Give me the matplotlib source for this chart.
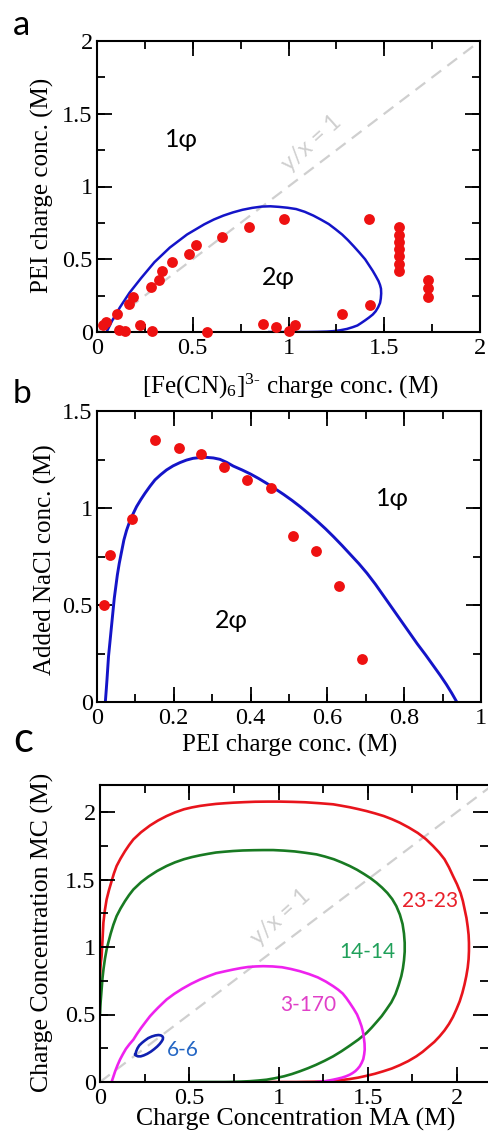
import matplotlib
matplotlib.use("Agg")
import matplotlib.pyplot as plt
from matplotlib.ticker import MultipleLocator, FuncFormatter
from matplotlib.collections import LineCollection

plt.rcParams['font.family'] = ['Liberation Serif', 'DejaVu Serif']
plt.rcParams['mathtext.fontset'] = 'custom'
plt.rcParams['mathtext.rm'] = 'Liberation Serif'
plt.rcParams['mathtext.it'] = 'Liberation Serif:italic'
plt.rcParams.update({
    'axes.linewidth': 1.5,
    'xtick.direction': 'in', 'ytick.direction': 'in',
    'xtick.top': True, 'ytick.right': True,
    'xtick.major.size': 0, 'ytick.major.size': 0,
    'xtick.minor.size': 0, 'ytick.minor.size': 0,
    'xtick.labelsize': 17.5, 'ytick.labelsize': 17.5,
    'xtick.major.pad': 4, 'ytick.major.pad': 3,
})

# ---- panel a: PEI / ferricyanide binodal and measured points ----
binodal_a_x = [0.05, 0.065, 0.08, 0.10, 0.12, 0.145, 0.17, 0.20, 0.23, 0.265, 0.30,
               0.34, 0.38, 0.425, 0.47, 0.515, 0.56, 0.61, 0.66, 0.71, 0.76, 0.81,
               0.86, 0.905, 0.95, 0.995, 1.04, 1.085, 1.13, 1.17, 1.21, 1.245, 1.28,
               1.31, 1.34, 1.37, 1.40, 1.42, 1.44, 1.455, 1.47, 1.478, 1.483, 1.484,
               1.482, 1.478, 1.468, 1.455, 1.44, 1.42, 1.40, 1.38, 1.36, 1.335, 1.305,
               1.27, 1.235, 1.20, 1.15, 1.10, 1.00, 0.90]
binodal_a_y = [0.0, 0.04, 0.08, 0.125, 0.17, 0.22, 0.27, 0.32, 0.37, 0.425, 0.48,
               0.53, 0.58, 0.625, 0.67, 0.705, 0.74, 0.773, 0.80, 0.822, 0.84, 0.853,
               0.862, 0.864, 0.860, 0.854, 0.845, 0.826, 0.80, 0.772, 0.742, 0.707,
               0.67, 0.632, 0.59, 0.546, 0.50, 0.46, 0.42, 0.386, 0.35, 0.323, 0.297,
               0.265, 0.23, 0.20, 0.17, 0.142, 0.12, 0.099, 0.08, 0.062, 0.045, 0.033,
               0.021, 0.012, 0.006, 0.003, 0.001, 0.0, 0.0, 0.0]

exp_a_x = [0.03, 0.045, 0.105, 0.115, 0.145, 0.165, 0.19, 0.222, 0.28, 0.287, 0.325,
           0.34, 0.39, 0.48, 0.515, 0.575, 0.655, 0.795, 0.975, 0.866, 0.937, 1.0,
           1.033, 1.277, 1.425, 1.42,
           1.575, 1.575, 1.575, 1.575, 1.575, 1.575, 1.575,
           1.727, 1.727, 1.727]
exp_a_y = [0.045, 0.07, 0.125, 0.015, 0.005, 0.19, 0.24, 0.05, 0.31, 0.005, 0.355,
           0.42, 0.48, 0.535, 0.595, 0.0, 0.65, 0.72, 0.78, 0.057, 0.034, 0.005,
           0.046, 0.126, 0.183, 0.78,
           0.42, 0.47, 0.52, 0.57, 0.62, 0.67, 0.72,
           0.24, 0.30, 0.36]

# ---- panel b: salt resistance curve ----
binodal_b_x = [0.0217, 0.024, 0.026, 0.028, 0.030, 0.033, 0.036, 0.039, 0.042, 0.045,
               0.049, 0.053, 0.058, 0.064, 0.070, 0.077, 0.085, 0.094, 0.103, 0.114,
               0.125, 0.138, 0.151, 0.166, 0.181, 0.198, 0.216, 0.233, 0.25, 0.268,
               0.285, 0.303, 0.32, 0.338, 0.355, 0.378, 0.40, 0.421, 0.442, 0.464,
               0.486, 0.508, 0.529, 0.551, 0.573, 0.595, 0.616, 0.638, 0.66, 0.682,
               0.703, 0.725, 0.746, 0.768, 0.79, 0.812, 0.834, 0.856, 0.877, 0.894,
               0.91, 0.924, 0.937]
binodal_b_y = [0.0, 0.06, 0.115, 0.175, 0.235, 0.295, 0.355, 0.415, 0.475, 0.535,
               0.595, 0.655, 0.715, 0.775, 0.835, 0.885, 0.93, 0.97, 1.007, 1.043,
               1.076, 1.112, 1.145, 1.172, 1.196, 1.217, 1.234, 1.247, 1.256, 1.260,
               1.261, 1.258, 1.251, 1.235, 1.216, 1.196, 1.175, 1.152, 1.127, 1.099,
               1.07, 1.039, 1.007, 0.971, 0.933, 0.893, 0.852, 0.807, 0.76, 0.713,
               0.664, 0.607, 0.548, 0.486, 0.424, 0.362, 0.30, 0.242, 0.184, 0.137,
               0.09, 0.045, 0.0]

exp_b_x = [0.017, 0.033, 0.092, 0.152, 0.213, 0.271, 0.331, 0.390, 0.453, 0.511,
           0.570, 0.631, 0.691]
exp_b_y = [0.50, 0.76, 0.945, 1.35, 1.31, 1.28, 1.21, 1.145, 1.105, 0.858, 0.779,
           0.60, 0.223]

# ---- panel c: model binodals for different chain lengths ----
c_23_x = [0.0, 0.002, 0.005, 0.009, 0.014, 0.019, 0.027, 0.037, 0.05, 0.065, 0.078,
          0.093, 0.115, 0.14, 0.163, 0.187, 0.23, 0.28, 0.325, 0.373, 0.42, 0.47,
          0.515, 0.56, 0.605, 0.65, 0.70, 0.746, 0.81, 0.87, 0.94, 1.007, 1.08,
          1.15, 1.23, 1.306, 1.35, 1.40, 1.445, 1.493, 1.54, 1.59, 1.635, 1.679,
          1.73, 1.78, 1.825, 1.866, 1.90, 1.93, 1.955, 1.978, 2.00, 2.02, 2.033,
          2.043, 2.053, 2.06, 2.065, 2.067, 2.067, 2.065, 2.06, 2.052, 2.042, 2.03,
          2.015, 1.996, 1.977, 1.955, 1.93, 1.903, 1.873, 1.84, 1.807, 1.772, 1.727,
          1.68, 1.635, 1.586, 1.54, 1.49, 1.445, 1.399, 1.35, 1.30, 1.255, 1.213,
          1.15, 1.10, 1.0, 0.9]
c_23_y = [0.75, 0.84, 0.89, 0.932, 1.05, 1.18, 1.27, 1.352, 1.42, 1.488, 1.545,
          1.60, 1.655, 1.71, 1.755, 1.797, 1.85, 1.90, 1.937, 1.97, 1.997, 2.02,
          2.034, 2.045, 2.053, 2.060, 2.065, 2.069, 2.073, 2.076, 2.077, 2.077,
          2.075, 2.072, 2.065, 2.057, 2.047, 2.035, 2.022, 2.007, 1.99, 1.97, 1.947,
          1.921, 1.885, 1.845, 1.80, 1.748, 1.70, 1.65, 1.59, 1.525, 1.465, 1.40,
          1.34, 1.278, 1.215, 1.15, 1.09, 1.031, 0.97, 0.91, 0.847, 0.784, 0.722,
          0.66, 0.597, 0.536, 0.481, 0.43, 0.382, 0.339, 0.297, 0.26, 0.223, 0.19,
          0.155, 0.125, 0.10, 0.079, 0.061, 0.045, 0.032, 0.022, 0.014, 0.008,
          0.004, 0.002, 0.001, 0.0, 0.0, 0.0]

c_14_x = [0.0, 0.002, 0.004, 0.009, 0.014, 0.02, 0.028, 0.037, 0.048, 0.06, 0.075,
          0.093, 0.115, 0.14, 0.163, 0.187, 0.23, 0.27, 0.32, 0.373, 0.42, 0.47,
          0.515, 0.56, 0.605, 0.65, 0.70, 0.746, 0.80, 0.86, 0.915, 0.97, 1.03,
          1.09, 1.15, 1.213, 1.26, 1.31, 1.355, 1.399, 1.44, 1.48, 1.515, 1.549,
          1.58, 1.61, 1.637, 1.66, 1.68, 1.695, 1.703, 1.707, 1.707, 1.703, 1.697,
          1.688, 1.673, 1.655, 1.632, 1.604, 1.578, 1.55, 1.522, 1.493, 1.447, 1.40,
          1.353, 1.306, 1.258, 1.21, 1.165, 1.119, 1.075, 1.03, 0.98, 0.933, 0.887,
          0.84, 0.79, 0.746, 0.70, 0.65, 0.60, 0.56, 0.5]
c_14_y = [0.50, 0.56, 0.60, 0.685, 0.77, 0.84, 0.915, 0.981, 1.04, 1.10, 1.165,
          1.229, 1.285, 1.34, 1.385, 1.426, 1.48, 1.52, 1.563, 1.60, 1.627, 1.65,
          1.666, 1.679, 1.69, 1.70, 1.706, 1.711, 1.715, 1.717, 1.718, 1.718, 1.714,
          1.708, 1.698, 1.686, 1.67, 1.65, 1.626, 1.60, 1.572, 1.54, 1.51, 1.476,
          1.44, 1.40, 1.355, 1.303, 1.24, 1.17, 1.10, 1.031, 0.965, 0.90, 0.842,
          0.784, 0.717, 0.65, 0.59, 0.536, 0.488, 0.445, 0.403, 0.363, 0.314, 0.27,
          0.228, 0.19, 0.157, 0.127, 0.102, 0.079, 0.059, 0.042, 0.028, 0.017,
          0.011, 0.006, 0.003, 0.001, 0.0, 0.0, 0.0, 0.0, 0.0]

c_3_x = [0.065, 0.075, 0.085, 0.098, 0.112, 0.128, 0.145, 0.165, 0.187, 0.208, 0.23,
         0.255, 0.28, 0.303, 0.325, 0.35, 0.373, 0.415, 0.46, 0.51, 0.56, 0.605,
         0.65, 0.70, 0.746, 0.79, 0.83, 0.872, 0.914, 0.967, 1.02, 1.07, 1.119,
         1.17, 1.22, 1.265, 1.306, 1.335, 1.36, 1.38, 1.399, 1.42, 1.44, 1.453,
         1.465, 1.473, 1.478, 1.482, 1.483, 1.48, 1.475, 1.466, 1.455, 1.443, 1.43,
         1.415, 1.399, 1.378, 1.355, 1.33, 1.306, 1.283, 1.26, 1.235, 1.213]
c_3_y = [0.0, 0.04, 0.08, 0.124, 0.166, 0.206, 0.245, 0.28, 0.314, 0.358, 0.40,
         0.444, 0.487, 0.52, 0.55, 0.582, 0.611, 0.652, 0.69, 0.727, 0.759, 0.783,
         0.805, 0.82, 0.833, 0.844, 0.852, 0.856, 0.858, 0.856, 0.85, 0.837, 0.821,
         0.8, 0.775, 0.744, 0.71, 0.683, 0.655, 0.622, 0.586, 0.544, 0.50, 0.458,
         0.413, 0.372, 0.33, 0.285, 0.24, 0.205, 0.17, 0.142, 0.116, 0.097, 0.08,
         0.066, 0.054, 0.042, 0.032, 0.024, 0.017, 0.011, 0.006, 0.003, 0.0]

c_6_x = [0.198, 0.203, 0.21, 0.22, 0.235, 0.252, 0.27, 0.29, 0.31, 0.327, 0.34,
         0.349, 0.353, 0.352, 0.345, 0.334, 0.32, 0.303, 0.285, 0.265, 0.245, 0.228,
         0.213, 0.203, 0.198]
c_6_y = [0.205, 0.228, 0.25, 0.271, 0.29, 0.308, 0.325, 0.337, 0.345, 0.348, 0.346,
         0.339, 0.33, 0.316, 0.30, 0.281, 0.262, 0.243, 0.225, 0.209, 0.197, 0.19,
         0.19, 0.195, 0.205]

c_labels = ['23-23', '14-14', '3-170', '6-6']
c_label_x = [1.847, 1.50, 1.166, 0.466]
c_label_y = [1.34, 0.96, 0.574, 0.24]
c_line_colors = ['#e8141c', '#187a22', '#ee22ee', '#1020b0']
c_text_colors = ['#e8202a', '#20a05a', '#e040c8', '#2466c4']

W, H = 488, 1138
fig = plt.figure(figsize=(W / 100, H / 100), dpi=100)

def px_axes(left, top, right, bottom):
    ax = fig.add_axes([left / W, 1 - bottom / H, (right - left) / W, (bottom - top) / H])
    ax.size_px = (right - left, bottom - top)
    return ax

def steps(lo, hi, step):
    n = int((hi - lo) / step + 1e-6)
    return [lo + i * step for i in range(n + 1)]

def set_ticks(ax, xmaj, xmin, ymaj, ymin):
    ax.xaxis.set_major_locator(MultipleLocator(xmaj))
    ax.yaxis.set_major_locator(MultipleLocator(ymaj))
    ax.xaxis.set_major_formatter(FuncFormatter(lambda v, p: '%g' % v))
    ax.yaxis.set_major_formatter(FuncFormatter(lambda v, p: '%g' % v))
    # inward tick marks on all four sides, 15 px major / 8 px minor
    w, h = ax.size_px
    x0, x1 = ax.get_xlim()
    y0, y1 = ax.get_ylim()
    xsegs, ysegs = [], []
    for step, n in ((xmaj, 15), (xmin, 8)):
        for v in steps(x0, x1, step):
            xsegs.append([(v, 0), (v, n / h)])
            xsegs.append([(v, 1), (v, 1 - n / h)])
    for step, n in ((ymaj, 15), (ymin, 8)):
        for v in steps(y0, y1, step):
            ysegs.append([(0, v), (n / w, v)])
            ysegs.append([(1, v), (1 - n / w, v)])
    ax.add_collection(LineCollection(xsegs, transform=ax.get_xaxis_transform(),
                                     colors='black', linewidths=1.3, zorder=2.5))
    ax.add_collection(LineCollection(ysegs, transform=ax.get_yaxis_transform(),
                                     colors='black', linewidths=1.3, zorder=2.5))

sans = ['Lato', 'DejaVu Sans']
gray = '#cfcfcf'
dot_red = '#ee1111'
line_blue = '#1414c8'

# panel a
ax_a = px_axes(97, 41, 480, 332)
ax_a.set_xlim(0, 2)
ax_a.set_ylim(0, 2)
set_ticks(ax_a, 0.5, 0.25, 0.5, 0.25)
ax_a.plot([0, 2], [0, 2], color=gray, lw=1.6, dashes=(5.5, 3.5), zorder=1)
ax_a.text(1.12, 1.30, 'y/x = 1', color=gray, fontsize=16.5, family=sans,
          rotation=42, ha='center', va='center', rotation_mode='anchor')
ax_a.plot(binodal_a_x, binodal_a_y, color=line_blue, lw=1.8, zorder=2)
ax_a.plot(exp_a_x, exp_a_y, 'o', color=dot_red, ms=7.8, mec='none', zorder=3,
          clip_on=False)
ax_a.text(0.44, 1.32, '1φ', fontsize=18, family=sans, ha='center', va='center')
ax_a.text(0.945, 0.378, '2φ', fontsize=18, family=sans, ha='center', va='center')

# panel b
ax_b = px_axes(97, 411, 481, 702)
ax_b.set_xlim(0, 1)
ax_b.set_ylim(0, 1.5)
set_ticks(ax_b, 0.2, 0.1, 0.5, 0.25)
ax_b.plot(binodal_b_x, binodal_b_y, color=line_blue, lw=2.1, zorder=2)
ax_b.plot(exp_b_x, exp_b_y, 'o', color=dot_red, ms=7.8, mec='none', zorder=3,
          clip_on=False)
ax_b.text(0.77, 1.05, '1φ', fontsize=18, family=sans, ha='center', va='center')
ax_b.text(0.35, 0.42, '2φ', fontsize=18, family=sans, ha='center', va='center')

# panel c, trimmed at the right edge of the figure
ax_c = px_axes(100, 785, 488, 1082)
ax_c.set_xlim(0, 388 / 178.5)
ax_c.set_ylim(0, 2.2)
set_ticks(ax_c, 0.5, 0.25, 0.5, 0.25)
ax_c.spines['right'].set_visible(False)
ax_c.plot([0, 2.2], [0, 2.2], color=gray, lw=1.6, dashes=(5.5, 3.5), zorder=1)
ax_c.text(1.01, 1.22, 'y/x = 1', color=gray, fontsize=16.5, family=sans,
          rotation=42, ha='center', va='center', rotation_mode='anchor')
curves = [(c_23_x, c_23_y), (c_14_x, c_14_y), (c_3_x, c_3_y), (c_6_x, c_6_y)]
for (cx, cy), col in zip(curves, c_line_colors):
    ax_c.plot(cx, cy, color=col, lw=1.9, zorder=2)
for lab, lx, ly, col in zip(c_labels, c_label_x, c_label_y, c_text_colors):
    ax_c.text(lx, ly, lab, color=col, fontsize=15, family=sans,
              ha='center', va='center')

# axis titles
fig.text(42 / W, 1 - 185.5 / H, 'PEI charge conc. (M)', rotation=90, fontsize=18,
         ha='center', va='center')
fig.text(290 / W, 1 - 394 / H, r'[Fe(CN)$_{6}$]$^{\text{3-}}$ charge conc. (M)',
         fontsize=18, ha='center', va='baseline')
fig.text(45 / W, 1 - 560 / H, 'Added NaCl conc. (M)', rotation=90, fontsize=18,
         ha='center', va='center')
fig.text(290 / W, 1 - 752 / H, 'PEI charge conc. (M)', fontsize=18,
         ha='center', va='baseline')
fig.text(42 / W, 1 - 932 / H, 'Charge Concentration MC (M)', rotation=90,
         fontsize=18.5, ha='center', va='center')
fig.text(296 / W, 1 - 1126 / H, 'Charge Concentration MA (M)', fontsize=18.5,
         ha='center', va='baseline')

# panel letters
fig.text(22 / W, 1 - 35 / H, 'a', fontsize=25, family=sans, ha='center', va='baseline')
fig.text(22 / W, 1 - 403 / H, 'b', fontsize=24, family=sans, ha='center', va='baseline')
fig.text(23 / W, 1 - 752 / H, 'c', fontsize=30, family=sans, ha='center', va='baseline')

fig.savefig('out.png', dpi=100)
